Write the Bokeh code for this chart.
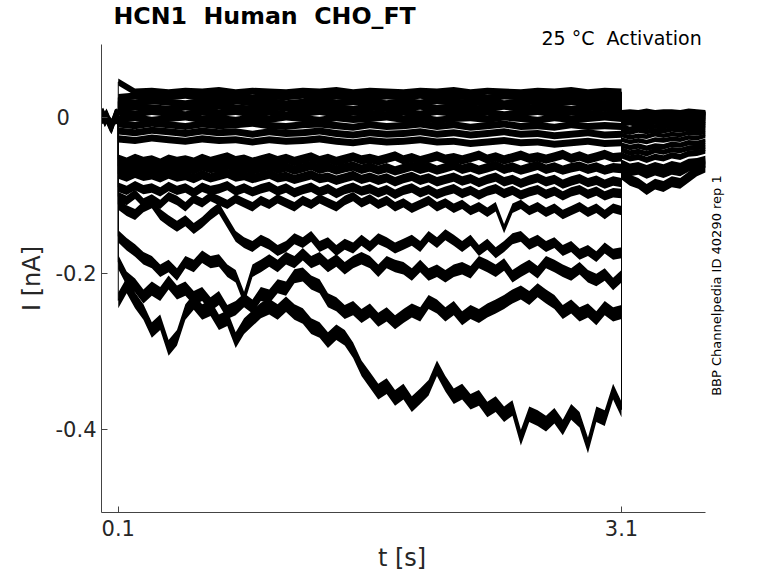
import math
from bokeh.plotting import figure
from bokeh.models import Range1d, FixedTicker, Title, Label
from bokeh.embed import file_html
from bokeh.resources import INLINE

FONT = "DejaVu Sans"

# ---------------- data ----------------
x_ticks = [0.1, 3.1]
x_tick_labels = ["0.1", "3.1"]
y_ticks = [-0.4, -0.2, 0.0]
y_tick_labels = ["-0.4", "-0.2", "0\u00a0\u00a0\u00a0\u00a0"]

# time bases (s)
base_t = [0.00, 0.01, 0.02, 0.03, 0.04, 0.05, 0.06, 0.07, 0.08, 0.09, 0.10]
coarse_t = [0.1, 0.2, 0.3, 0.4, 0.5, 0.6, 0.7, 0.8, 0.9, 1.0, 1.1, 1.2, 1.3, 1.4, 1.5, 1.6,
            1.7, 1.8, 1.9, 2.0, 2.1, 2.2, 2.3, 2.4, 2.5, 2.6, 2.7, 2.8, 2.9, 3.0, 3.1]
fine_t = [0.10, 0.15, 0.20, 0.25, 0.30, 0.35, 0.40, 0.45, 0.50, 0.55,
          0.60, 0.65, 0.70, 0.75, 0.80, 0.85, 0.90, 0.95, 1.00, 1.05,
          1.10, 1.15, 1.20, 1.25, 1.30, 1.35, 1.40, 1.45, 1.50, 1.55,
          1.60, 1.65, 1.70, 1.75, 1.80, 1.85, 1.90, 1.95, 2.00, 2.05,
          2.10, 2.15, 2.20, 2.25, 2.30, 2.35, 2.40, 2.45, 2.50, 2.55,
          2.60, 2.65, 2.70, 2.75, 2.80, 2.85, 2.90, 2.95, 3.00, 3.05, 3.10]
tail_t = [3.10, 3.15, 3.20, 3.25, 3.30, 3.35, 3.40, 3.45, 3.50, 3.55, 3.60]

# holding current before the step (nA), shared by all sweeps
base_i = [0.001, 0.003, -0.002, 0.002, -0.003, -0.008, -0.011, -0.005, 0.001, 0.002, 0.000]

# sweeps (nA): pulse part and tail part
t1_pulse = [0.046, 0.033, 0.034, 0.032, 0.034, 0.033, 0.035, 0.032, 0.034, 0.033, 0.032, 0.034, 0.033, 0.035, 0.032, 0.034,
            0.033, 0.032, 0.034, 0.033, 0.035, 0.032, 0.034, 0.033, 0.032, 0.034, 0.033, 0.035, 0.032, 0.034, 0.033]
t1_tail = [0.007, 0.008, 0.007, 0.009, 0.007, 0.008, 0.008, 0.007, 0.009, 0.008, 0.007]
t2_pulse = [0.026, 0.028, 0.026, 0.027, 0.029, 0.026, 0.028, 0.027, 0.025, 0.028, 0.027, 0.029, 0.026, 0.028, 0.027, 0.026,
            0.028, 0.027, 0.029, 0.026, 0.028, 0.027, 0.025, 0.028, 0.027, 0.029, 0.026, 0.028, 0.027, 0.026, 0.028]
t2_tail = [0.006, 0.005, 0.007, 0.006, 0.005, 0.007, 0.006, 0.005, 0.006, 0.007, 0.006]
t3_pulse = [0.021, 0.019, 0.022, 0.020, 0.018, 0.021, 0.020, 0.022, 0.019, 0.021, 0.018, 0.020, 0.022, 0.019, 0.021, 0.020,
            0.018, 0.021, 0.019, 0.022, 0.020, 0.019, 0.021, 0.018, 0.020, 0.022, 0.019, 0.021, 0.020, 0.018, 0.021]
t3_tail = [0.004, 0.005, 0.003, 0.005, 0.004, 0.003, 0.005, 0.004, 0.005, 0.004, 0.005]
t4_pulse = [0.012, 0.014, 0.013, 0.011, 0.014, 0.012, 0.015, 0.013, 0.011, 0.014, 0.013, 0.012, 0.015, 0.013, 0.011, 0.014,
            0.012, 0.013, 0.015, 0.012, 0.014, 0.011, 0.013, 0.015, 0.012, 0.014, 0.013, 0.011, 0.014, 0.012, 0.013]
t4_tail = [0.002, 0.003, 0.001, 0.003, 0.002, 0.004, 0.002, 0.003, 0.002, 0.003, 0.004]
t5_pulse = [0.007, 0.005, 0.008, 0.006, 0.004, 0.007, 0.006, 0.008, 0.005, 0.007, 0.004, 0.006, 0.008, 0.005, 0.007, 0.006,
            0.004, 0.007, 0.005, 0.008, 0.006, 0.005, 0.007, 0.004, 0.006, 0.008, 0.005, 0.007, 0.006, 0.004, 0.006]
t5_tail = [0.000, 0.002, 0.001, -0.001, 0.001, 0.002, 0.000, 0.002, 0.001, 0.002, 0.001]
t6_pulse = [-0.002, 0.000, -0.003, -0.001, 0.001, -0.002, -0.001, -0.003, 0.000, -0.002, 0.001, -0.001, -0.003, 0.000, -0.002, -0.001,
            0.001, -0.002, 0.000, -0.003, -0.001, 0.000, -0.002, 0.001, -0.001, -0.003, 0.000, -0.002, -0.001, 0.001, -0.001]
t6_tail = [-0.002, -0.001, -0.003, -0.001, -0.002, 0.000, -0.002, -0.001, 0.000, -0.001, 0.000]
t7_pulse = [-0.008, -0.010, -0.007, -0.009, -0.011, -0.008, -0.010, -0.009, -0.007, -0.010, -0.011, -0.009, -0.008, -0.010, -0.012, -0.009,
            -0.011, -0.010, -0.008, -0.011, -0.009, -0.012, -0.010, -0.008, -0.011, -0.010, -0.012, -0.009, -0.011, -0.010, -0.011]
t7_tail = [-0.005, -0.004, -0.006, -0.004, -0.005, -0.003, -0.004, -0.005, -0.003, -0.004, -0.003]
t8_pulse = [-0.017, -0.019, -0.016, -0.018, -0.020, -0.017, -0.019, -0.018, -0.021, -0.018, -0.020, -0.019, -0.017, -0.020, -0.022, -0.019,
            -0.021, -0.020, -0.018, -0.021, -0.019, -0.022, -0.020, -0.018, -0.021, -0.020, -0.023, -0.021, -0.019, -0.022, -0.021]
t8_tail = [-0.008, -0.007, -0.009, -0.008, -0.006, -0.008, -0.007, -0.006, -0.007, -0.005, -0.006]
t9_pulse = [-0.027, -0.029, -0.026, -0.028, -0.030, -0.027, -0.029, -0.028, -0.031, -0.028, -0.030, -0.029, -0.027, -0.030, -0.032, -0.029,
            -0.031, -0.030, -0.028, -0.031, -0.030, -0.033, -0.031, -0.029, -0.032, -0.031, -0.034, -0.032, -0.030, -0.033, -0.032]
t9_tail = [-0.012, -0.014, -0.012, -0.013, -0.011, -0.012, -0.010, -0.011, -0.010, -0.011, -0.009]
t10_pulse = [-0.053, -0.057, -0.052, -0.056, -0.054, -0.058, -0.053, -0.056, -0.054, -0.057,
             -0.052, -0.056, -0.053, -0.050, -0.055, -0.053, -0.057, -0.054, -0.051, -0.055,
             -0.052, -0.056, -0.053, -0.050, -0.055, -0.052, -0.056, -0.053, -0.050, -0.054,
             -0.052, -0.055, -0.052, -0.049, -0.054, -0.051, -0.055, -0.052, -0.049, -0.053,
             -0.051, -0.054, -0.051, -0.048, -0.053, -0.050, -0.054, -0.051, -0.048, -0.052,
             -0.050, -0.053, -0.050, -0.047, -0.052, -0.049, -0.053, -0.050, -0.047, -0.051, -0.050]
t10_tail = [-0.017, -0.019, -0.016, -0.018, -0.016, -0.017, -0.015, -0.016, -0.014, -0.015, -0.013]
t11_pulse = [-0.062, -0.066, -0.061, -0.065, -0.063, -0.067, -0.062, -0.066, -0.063, -0.067,
             -0.062, -0.065, -0.063, -0.060, -0.066, -0.063, -0.067, -0.064, -0.061, -0.066,
             -0.063, -0.067, -0.064, -0.061, -0.066, -0.063, -0.067, -0.064, -0.062, -0.066,
             -0.063, -0.067, -0.064, -0.068, -0.065, -0.062, -0.066, -0.063, -0.067, -0.064,
             -0.061, -0.066, -0.063, -0.067, -0.064, -0.061, -0.066, -0.063, -0.067, -0.064,
             -0.061, -0.066, -0.063, -0.067, -0.064, -0.062, -0.066, -0.063, -0.067, -0.064, -0.065]
t11_tail = [-0.022, -0.025, -0.023, -0.024, -0.021, -0.023, -0.021, -0.022, -0.019, -0.020, -0.018]
t12_pulse = [-0.072, -0.076, -0.071, -0.075, -0.073, -0.077, -0.072, -0.076, -0.074, -0.078,
             -0.073, -0.077, -0.074, -0.071, -0.076, -0.074, -0.078, -0.075, -0.072, -0.077,
             -0.075, -0.079, -0.076, -0.073, -0.078, -0.076, -0.080, -0.077, -0.074, -0.079,
             -0.076, -0.080, -0.077, -0.082, -0.078, -0.075, -0.080, -0.077, -0.082, -0.079,
             -0.076, -0.081, -0.078, -0.083, -0.079, -0.076, -0.082, -0.079, -0.084, -0.080,
             -0.077, -0.082, -0.079, -0.085, -0.081, -0.078, -0.083, -0.080, -0.085, -0.081, -0.083]
t12_tail = [-0.028, -0.031, -0.029, -0.031, -0.028, -0.029, -0.027, -0.028, -0.025, -0.026, -0.023]
t13_pulse = [-0.089, -0.093, -0.087, -0.092, -0.090, -0.095, -0.088, -0.093, -0.090, -0.096,
             -0.089, -0.093, -0.091, -0.087, -0.094, -0.090, -0.095, -0.091, -0.088, -0.094,
             -0.090, -0.096, -0.092, -0.089, -0.095, -0.091, -0.097, -0.092, -0.089, -0.094,
             -0.091, -0.096, -0.092, -0.098, -0.093, -0.090, -0.096, -0.092, -0.098, -0.094,
             -0.091, -0.097, -0.093, -0.099, -0.094, -0.091, -0.097, -0.093, -0.099, -0.095,
             -0.092, -0.098, -0.094, -0.100, -0.095, -0.092, -0.098, -0.094, -0.100, -0.096, -0.097]
t13_tail = [-0.035, -0.038, -0.036, -0.039, -0.036, -0.037, -0.034, -0.035, -0.032, -0.033, -0.030]
t14_pulse = [-0.101, -0.106, -0.098, -0.109, -0.104, -0.111, -0.101, -0.106, -0.114, -0.104,
             -0.109, -0.101, -0.106, -0.111, -0.104, -0.109, -0.114, -0.106, -0.111, -0.104,
             -0.109, -0.114, -0.106, -0.111, -0.104, -0.109, -0.114, -0.106, -0.101, -0.109,
             -0.104, -0.111, -0.106, -0.114, -0.109, -0.116, -0.111, -0.106, -0.114, -0.109,
             -0.116, -0.111, -0.119, -0.114, -0.121, -0.114, -0.142, -0.116, -0.111, -0.119,
             -0.114, -0.121, -0.116, -0.124, -0.119, -0.114, -0.121, -0.116, -0.124, -0.116, -0.119]
t14_tail = [-0.041, -0.045, -0.043, -0.046, -0.042, -0.044, -0.041, -0.042, -0.039, -0.038, -0.036]
l4_pulse = [-0.111, -0.119, -0.124, -0.114, -0.109, -0.124, -0.132, -0.139, -0.132, -0.142,
            -0.134, -0.124, -0.116, -0.134, -0.152, -0.160, -0.165, -0.157, -0.162, -0.170,
            -0.165, -0.155, -0.160, -0.152, -0.165, -0.160, -0.170, -0.162, -0.167, -0.157,
            -0.165, -0.155, -0.160, -0.167, -0.162, -0.157, -0.165, -0.152, -0.160, -0.150,
            -0.157, -0.165, -0.157, -0.170, -0.162, -0.173, -0.165, -0.155, -0.152, -0.162,
            -0.157, -0.165, -0.160, -0.170, -0.165, -0.175, -0.170, -0.178, -0.167, -0.175, -0.173]
l4_tail = [-0.048, -0.052, -0.050, -0.054, -0.050, -0.052, -0.048, -0.050, -0.046, -0.045, -0.042]
l3_pulse = [-0.152, -0.162, -0.170, -0.180, -0.185, -0.196, -0.190, -0.201, -0.185, -0.190,
            -0.178, -0.185, -0.183, -0.196, -0.203, -0.231, -0.196, -0.190, -0.183, -0.190,
            -0.180, -0.185, -0.175, -0.185, -0.180, -0.190, -0.183, -0.193, -0.185, -0.180,
            -0.185, -0.196, -0.185, -0.190, -0.193, -0.201, -0.190, -0.201, -0.196, -0.203,
            -0.196, -0.193, -0.198, -0.185, -0.190, -0.196, -0.188, -0.203, -0.196, -0.190,
            -0.198, -0.185, -0.190, -0.196, -0.201, -0.193, -0.203, -0.208, -0.201, -0.213, -0.203]
l3_tail = [-0.058, -0.063, -0.061, -0.065, -0.061, -0.064, -0.060, -0.062, -0.057, -0.056, -0.053]
l2_pulse = [-0.185, -0.206, -0.215, -0.229, -0.219, -0.226, -0.211, -0.224, -0.219, -0.231,
            -0.226, -0.239, -0.231, -0.249, -0.244, -0.234, -0.242, -0.226, -0.229, -0.216,
            -0.219, -0.203, -0.201, -0.211, -0.216, -0.234, -0.239, -0.249, -0.244, -0.254,
            -0.247, -0.259, -0.252, -0.262, -0.254, -0.247, -0.252, -0.236, -0.242, -0.252,
            -0.244, -0.257, -0.249, -0.254, -0.247, -0.242, -0.236, -0.229, -0.224, -0.231,
            -0.221, -0.229, -0.236, -0.249, -0.242, -0.252, -0.247, -0.257, -0.244, -0.252, -0.249]
l2_tail = [-0.064, -0.070, -0.068, -0.073, -0.069, -0.072, -0.068, -0.070, -0.064, -0.062, -0.059]
l1_pulse = [-0.234, -0.215, -0.234, -0.249, -0.272, -0.262, -0.295, -0.282, -0.249, -0.236,
            -0.249, -0.244, -0.262, -0.257, -0.285, -0.267, -0.257, -0.247, -0.242, -0.249,
            -0.239, -0.249, -0.254, -0.267, -0.272, -0.285, -0.275, -0.282, -0.298, -0.321,
            -0.336, -0.351, -0.344, -0.359, -0.351, -0.367, -0.357, -0.346, -0.321, -0.341,
            -0.357, -0.351, -0.364, -0.359, -0.374, -0.367, -0.380, -0.372, -0.410, -0.380,
            -0.385, -0.392, -0.382, -0.397, -0.377, -0.387, -0.420, -0.380, -0.385, -0.351, -0.374]
l1_tail = [-0.072, -0.080, -0.084, -0.092, -0.085, -0.088, -0.082, -0.084, -0.076, -0.068, -0.063]

# half-width of the recording noise band of each sweep (nA), during the step and in the tail
noise_nA = [0.0045, 0.0045, 0.0045, 0.0045, 0.0045, 0.0045, 0.0045, 0.0045, 0.0045,
            0.006, 0.006, 0.006, 0.006, 0.006, 0.007, 0.008, 0.009, 0.010]
tail_noise_nA = [0.003, 0.003, 0.003, 0.003, 0.003, 0.003, 0.003, 0.003, 0.003,
                 0.003, 0.003, 0.003, 0.0035, 0.0035, 0.004, 0.0045, 0.005, 0.007]

title_text = "HCN1\u00a0 Human\u00a0 CHO_FT"
condition_text = "25 \u00b0C\u00a0 Activation"
side_text = "BBP Channelpedia ID 40290 rep 1"
x_label = "t [s]"
y_label = "I [nA]"

sweeps = [
    (coarse_t, t1_pulse, t1_tail), (coarse_t, t2_pulse, t2_tail), (coarse_t, t3_pulse, t3_tail),
    (coarse_t, t4_pulse, t4_tail), (coarse_t, t5_pulse, t5_tail), (coarse_t, t6_pulse, t6_tail),
    (coarse_t, t7_pulse, t7_tail), (coarse_t, t8_pulse, t8_tail), (coarse_t, t9_pulse, t9_tail),
    (fine_t, t10_pulse, t10_tail), (fine_t, t11_pulse, t11_tail), (fine_t, t12_pulse, t12_tail),
    (fine_t, t13_pulse, t13_tail), (fine_t, t14_pulse, t14_tail), (fine_t, l4_pulse, l4_tail),
    (fine_t, l3_pulse, l3_tail), (fine_t, l2_pulse, l2_tail), (fine_t, l1_pulse, l1_tail),
]

# ---------------- figure ----------------
# The frame runs a little past 3.6 s so the rotated side note (a Label) stays inside it;
# the x axis line itself is bounded to 0..3.6 s.
p = figure(width=770, height=575, x_range=Range1d(0, 3.72), y_range=Range1d(-0.506, 0.094),
           output_backend="svg", toolbar_location=None,
           min_border_left=101, min_border_right=45, min_border_top=43, min_border_bottom=63)
p.outline_line_color = None
p.grid.visible = False
p.background_fill_color = "white"
p.border_fill_color = "white"

series = []
for (pt, pv, tv), s, st in zip(sweeps, noise_nA, tail_noise_nA):
    xs = base_t + pt + tail_t
    ys = base_i + pv + tv
    ss = [s] * (len(base_t) + len(pt)) + [st] * len(tail_t)
    series.append((xs, ys, ss))

for xs, ys, ss in series:
    p.varea(x=xs, y1=[v - s for v, s in zip(ys, ss)], y2=[v + s for v, s in zip(ys, ss)],
            fill_color="black", fill_alpha=1.0)
for xs, ys, ss in series:
    p.line(xs, ys, line_color="black", line_width=1)

for ax in (p.xaxis[0], p.yaxis[0]):
    ax.axis_line_color = "#444444"
    ax.axis_line_width = 1
    ax.major_tick_line_color = "#444444"
    ax.major_tick_in = 6
    ax.major_tick_out = 0
    ax.minor_tick_line_color = None
    ax.major_label_text_font = FONT
    ax.major_label_text_font_size = "21px"
    ax.major_label_text_color = "#262626"
    ax.axis_label_text_font = FONT
    ax.axis_label_text_font_size = "24px"
    ax.axis_label_text_font_style = "normal"
    ax.axis_label_text_color = "#262626"

p.xaxis.bounds = (0, 3.6)
p.xaxis.ticker = FixedTicker(ticks=x_ticks)
p.xaxis.major_label_overrides = dict(zip(x_ticks, x_tick_labels))
p.xaxis.major_label_standoff = 7
# trailing no-break spaces keep the label centred under 0..3.6 s rather than the wider frame
p.xaxis.axis_label = x_label + "\u00a0\u00a0\u00a0"
p.xaxis.axis_label_standoff = 5
p.yaxis.ticker = FixedTicker(ticks=y_ticks)
p.yaxis.major_label_overrides = dict(zip(y_ticks, y_tick_labels))
p.yaxis.major_label_standoff = 5
p.yaxis.axis_label = y_label
p.yaxis.axis_label_standoff = 7

# side note, read bottom to top, right of the traces
p.add_layout(Label(x=3.666, y=-0.215, text=side_text, angle=math.pi / 2,
                   text_align="center", text_baseline="middle",
                   text_font=FONT, text_font_size="13px", text_color="black"))

# bold title (top, left)
p.title.text = title_text
p.title.align = "left"
p.title.offset = 12
p.title.text_font = FONT
p.title.text_font_size = "23.7px"
p.title.text_font_style = "bold"
p.title.text_color = "black"
p.title.standoff = -2

# condition text, just above the frame, ending at 3.6 s
cond_title = Title(text=condition_text, align="left", offset=440, standoff=-8,
                   text_font=FONT, text_font_size="19px", text_font_style="normal", text_color="black")
p.add_layout(cond_title, "above")

open("out.html", "w").write(file_html(p, INLINE))
